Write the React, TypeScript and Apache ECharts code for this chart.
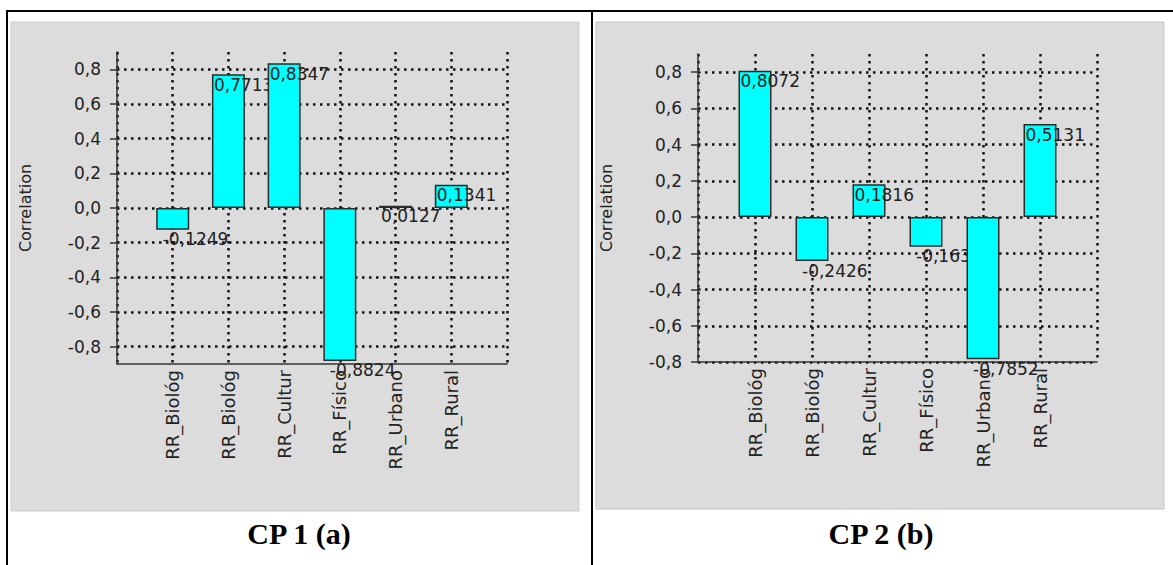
import React, { useEffect, useRef } from "react";
import * as echarts from "echarts";

// Variables shared by both principal-component panels
const categories = ["RR_Biológ", "RR_Biológ", "RR_Cultur", "RR_Físico", "RR_Urbano", "RR_Rural"];
// Correlation of each variable with the first and second principal components
const cp1Values = [-0.1249, 0.7713, 0.8347, -0.8824, 0.0127, 0.1341];
const cp2Values = [0.8072, -0.2426, 0.1816, -0.1634, -0.7852, 0.5131];
// Labelled ticks on the correlation axes
const yTicks = [-0.8, -0.6, -0.4, -0.2, 0, 0.2, 0.4, 0.6, 0.8];
const cp1Range = [-0.9, 0.9];
const cp2Range = [-0.8, 0.9];
const captions = ["CP 1 (a)", "CP 2 (b)"];
const yAxisTitle = "Correlation";

const SANS = "DejaVu Sans";
const TEXT = "#222";
const dotted = { type: [2.5, 4.5] as number[], color: "#111", width: 2.5 };

const comma = (v: number, digits: number) => v.toFixed(digits).replace(".", ",");

function panelAxes(gridIndex: number, range: number[]) {
  const xAxis = {
    gridIndex,
    type: "value",
    min: 0,
    max: categories.length + 1,
    interval: 1,
    axisLine: { show: true, onZero: false, lineStyle: { color: "#333", width: 1.5 } },
    axisTick: { show: false },
    axisLabel: {
      rotate: 90,
      margin: 6,
      fontFamily: SANS,
      fontSize: 18,
      color: TEXT,
      formatter: (v: number) => categories[Math.round(v) - 1] ?? "",
    },
    splitLine: { show: true, lineStyle: dotted },
  };
  const yAxis = {
    gridIndex,
    type: "value",
    min: range[0],
    max: range[1],
    interval: 0.1,
    axisLine: { show: true, onZero: false, lineStyle: { color: "#333", width: 1.5 } },
    axisTick: { show: true, customValues: yTicks, length: 7, lineStyle: { color: "#333", width: 1.5 } },
    axisLabel: {
      customValues: yTicks,
      margin: 16,
      fontFamily: SANS,
      fontSize: 17,
      color: TEXT,
      formatter: (v: number) => comma(v, 1),
    },
    splitLine: { show: true, lineStyle: dotted },
    name: yAxisTitle,
    nameLocation: "middle",
    nameGap: 84,
    nameTextStyle: { fontFamily: SANS, fontSize: 16, color: TEXT },
  };
  return { xAxis, yAxis };
}

// One series per bar, stacked in drawing order, so that each value label
// lies over its own bar and under the bars drawn after it
function panelSeries(index: number, values: number[]) {
  return values.map((v, i) => ({
    type: "bar",
    xAxisIndex: index,
    yAxisIndex: index,
    barWidth: 33,
    barGap: "-100%",
    z: 2 + i,
    silent: true,
    itemStyle: { color: "#00ffff", borderColor: "#2b2b2b", borderWidth: 1.5 },
    label: {
      show: true,
      fontFamily: SANS,
      fontSize: 17,
      color: TEXT,
      formatter: (p: any) => comma(p.value[1], 4),
      ...(v >= 0
        ? { position: "insideTopLeft", distance: 2 }
        : { position: "bottom", align: "left", distance: 1, offset: [-10, 0] }),
    },
    data: [[i + 1, v]],
  }));
}

export default function App() {
  const ref = useRef<HTMLDivElement>(null);

  useEffect(() => {
    if (!ref.current) return;
    const chart = echarts.init(ref.current, undefined, { renderer: "svg" });
    const a = panelAxes(0, cp1Range);
    const b = panelAxes(1, cp2Range);

    chart.setOption({
      animation: false,
      backgroundColor: "#ffffff",
      grid: [
        { left: 117, top: 52, width: 390, height: 312 },
        { left: 698, top: 54, width: 399, height: 308 },
      ],
      xAxis: [a.xAxis, b.xAxis],
      yAxis: [a.yAxis, b.yAxis],
      series: [...panelSeries(0, cp1Values), ...panelSeries(1, cp2Values)],
      graphic: [
        // grey chart panels
        { type: "rect", z: -10, silent: true, shape: { x: 11, y: 22, width: 568, height: 489 }, style: { fill: "#dcdcdc", stroke: "#cdcdcd", lineWidth: 1 } },
        { type: "rect", z: -10, silent: true, shape: { x: 596, y: 22, width: 568, height: 487 }, style: { fill: "#dcdcdc", stroke: "#c4c4c4", lineWidth: 1 } },
        // table rules
        { type: "rect", silent: true, shape: { x: 6, y: 10, width: 1167, height: 2 }, style: { fill: "#000" } },
        { type: "rect", silent: true, shape: { x: 6, y: 10, width: 2, height: 555 }, style: { fill: "#000" } },
        { type: "rect", silent: true, shape: { x: 591, y: 10, width: 2, height: 555 }, style: { fill: "#000" } },
        // captions
        { type: "text", silent: true, x: 299, y: 533, style: { text: captions[0], fontFamily: "Liberation Serif", fontWeight: "bold", fontSize: 30, fill: "#000", align: "center", verticalAlign: "middle" } },
        { type: "text", silent: true, x: 881, y: 533, style: { text: captions[1], fontFamily: "Liberation Serif", fontWeight: "bold", fontSize: 30, fill: "#000", align: "center", verticalAlign: "middle" } },
      ],
    });
    return () => chart.dispose();
  }, []);

  return (
    <div
      ref={ref}
      style={{ position: "absolute", left: 0, top: 0, width: 1173, height: 565, background: "#fff" }}
    />
  );
}
